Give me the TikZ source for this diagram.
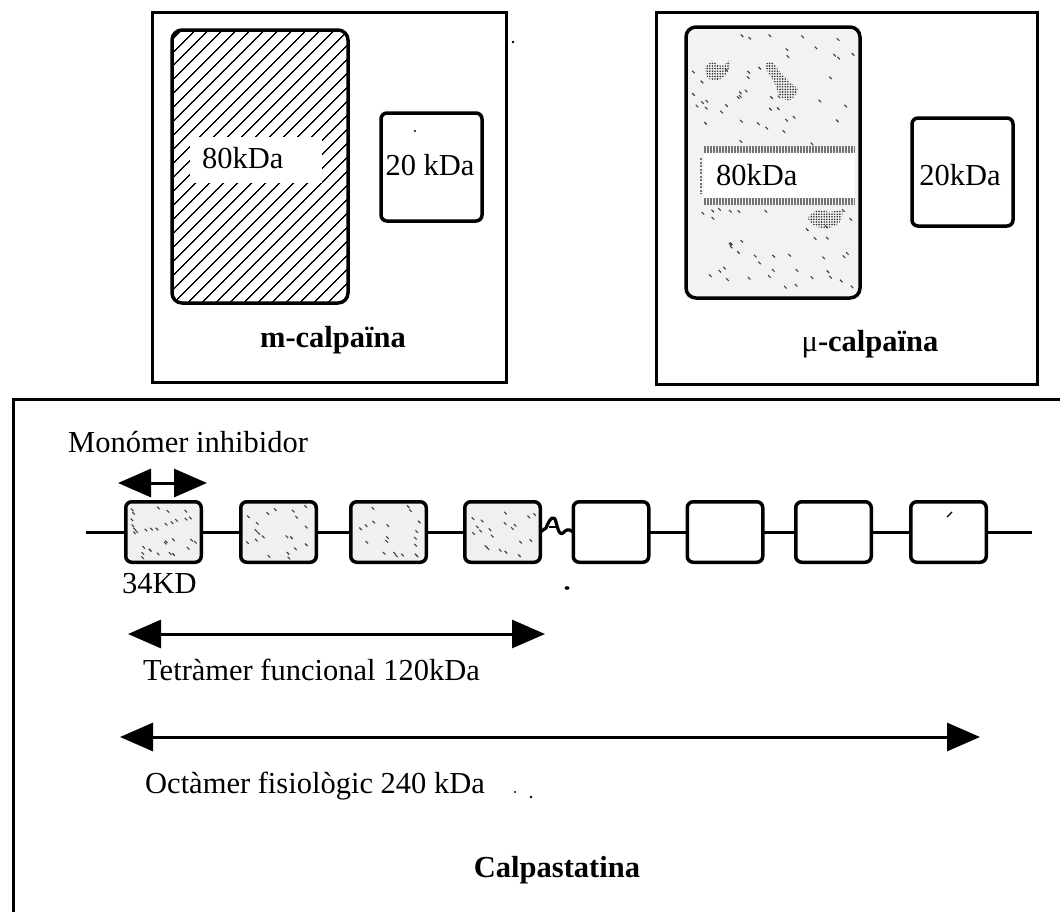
\documentclass[tikz,border=0pt]{standalone}
\usepackage{fontspec}
\setmainfont{Liberation Serif}
\usetikzlibrary{arrows.meta,patterns.meta,calc}
\newcommand\stip[5]{%
  \foreach \k in {1,...,#5}{%
    \pgfmathsetmacro\sx{#1+rnd*#3}%
    \pgfmathsetmacro\sy{#2+rnd*#4}%
    \draw[tick] (\sx,\sy) -- ++(2.5,2.5);
  }}
\begin{document}
\begin{tikzpicture}[x=1pt,y=-1pt,
  lbl/.style={font=\fontsize{30.5}{36}\selectfont, inner sep=0pt},
  blbl/.style={font=\fontsize{30.5}{36}\selectfont\bfseries, inner sep=0pt},
  frame/.style={draw, line width=3pt},
  unit/.style={draw, line width=3.5pt, rounded corners=6pt, minimum width=75.5pt, minimum height=60.5pt, inner sep=0pt, outer sep=0pt},
  grayunit/.style={unit, fill=black!6},
  link/.style={line width=3pt},
  dim/.style={line width=3pt, {Triangle[length=33pt,width=28pt]}-{Triangle[length=33pt,width=28pt]}},
  tick/.style={line width=1.1pt, black!75},
  blob/.style={pattern={Dots[distance=2.6pt,radius=0.9pt]}, pattern color=black!80},
]
\pgfmathsetseed{4242}
\useasboundingbox (0,0) rectangle (1060,911);
\fill[white] (0,0) rectangle (1060,911);

% ---------- m-calpaina ----------
\draw[frame] (152,12) rectangle (506,382);
\draw[line width=3.5pt, rounded corners=10pt,
  pattern={Lines[angle=45,distance=10.5pt,line width=1.6pt]}] (172,30) rectangle (348,303);
\fill[white] (190,137) rectangle (322,183);
\node[lbl, anchor=base west] (m80) at (202,168) {80kDa};
\draw[line width=3.5pt, rounded corners=6pt] (381,113) rectangle (482,221);
\node[lbl, anchor=base] (m20) at (430,175) {20 kDa};
\node[blbl, anchor=base] (mcal) at (333,347) {m-calpaïna};

% ---------- mu-calpaina ----------
\draw[frame] (656,12) rectangle (1037,384);
\fill[black!5] (686,27) rectangle (860,298);
\stip{692}{34}{160}{110}{45}
\stip{692}{208}{160}{84}{40}
\fill[blob] plot[smooth cycle] coordinates {(705,68) (712,62) (722,66) (730,60) (728,72) (718,80) (708,78)};
\fill[blob] plot[smooth cycle] coordinates {(765,66) (772,62) (780,72) (792,84) (798,90) (790,100) (780,96) (774,82)};
\fill[blob] plot[smooth cycle] coordinates {(808,218) (818,210) (830,212) (842,210) (840,222) (828,228) (815,226)};
\fill[white] (704,152) rectangle (855,198);
\draw[black!55, line width=7pt, dash pattern=on 2pt off 1pt] (704,149) -- (855,149);
\draw[black!55, line width=7pt, dash pattern=on 2pt off 1pt] (704,201) -- (855,201);
\draw[black!55, line width=2pt, dash pattern=on 2pt off 1.5pt] (701,158) -- (701,194);
\draw[line width=3.5pt, rounded corners=10pt] (686,27) rectangle (860,298);
\node[lbl, anchor=base west] (u80) at (716,185) {80kDa};
\draw[line width=3.5pt, rounded corners=6pt] (912,118) rectangle (1013,226);
\node[lbl, anchor=base] (u20) at (960,185) {20kDa};
\node[lbl, anchor=base] (ucal) at (870,351) {μ\textbf{-calpaïna}};

% ---------- Calpastatina ----------
\draw[frame] (1061,399) -- (13,399) -- (13,912);
\node[lbl, anchor=base west] (mono) at (68,452) {Monómer inhibidor};

\node[grayunit] (c1) at (163.5,532) {};
\node[grayunit] (c2) at (278.5,532) {};
\node[grayunit] (c3) at (388.5,532) {};
\node[grayunit] (c4) at (502.5,532) {};
\node[unit] (c5) at (611,532) {};
\node[unit] (c6) at (725,532) {};
\node[unit] (c7) at (833.5,532) {};
\node[unit] (c8) at (948.5,532) {};
\stip{129}{505}{66}{52}{32}
\stip{244}{505}{66}{52}{20}
\stip{354}{505}{66}{52}{20}
\stip{468}{505}{66}{52}{20}

\coordinate (ls) at (86,532);
\coordinate (le) at (1032,532);
\draw[link] (ls) -- (c1.west);
\draw[link] (c1.east) -- (c2.west);
\draw[link] (c2.east) -- (c3.west);
\draw[link] (c3.east) -- (c4.west);
\draw[link, line width=3.2pt, line join=round, line cap=round] (c4.east) -- (546,528)
  .. controls (550,518) and (554,514) .. (556,522)
  .. controls (558,530) and (560,536) .. (563,533)
  .. controls (566,530) and (568,528) .. (c5.west);
\draw[link, line width=2.5pt] (549,527) -- (557,527);
\draw[link] (c5.east) -- (c6.west);
\draw[link] (c6.east) -- (c7.west);
\draw[link] (c7.east) -- (c8.west);
\draw[link] (c8.east) -- (le);

\coordinate (ma) at (118,483);
\coordinate (mb) at (207,483);
\draw[dim] (ma) -- (mb);
\node[lbl, anchor=base west] (kd) at (122,593) {34KD};

\coordinate (ta) at (128,634);
\coordinate (tb) at (545,634);
\draw[dim] (ta) -- (tb);
\node[lbl, anchor=base west] (tetra) at (143,680) {Tetràmer funcional 120kDa};

\coordinate (oa) at (120,737);
\coordinate (ob) at (980,737);
\draw[dim] (oa) -- (ob);
\node[lbl, anchor=base west] (octa) at (145,793) {Octàmer fisiològic 240 kDa};

\node[blbl, anchor=base] (calp) at (557,877) {Calpastatina};

% scan specks
\fill (513,42) circle (1.3pt);
\fill (415,131) circle (1.2pt);
\fill (567,588) ellipse [x radius=2.5pt, y radius=1.8pt];
\fill (515,792) circle (1.2pt);
\fill (531,797) circle (1.3pt);
\draw[line width=1.2pt] (947,517) -- (952,512);
\end{tikzpicture}
\end{document}
